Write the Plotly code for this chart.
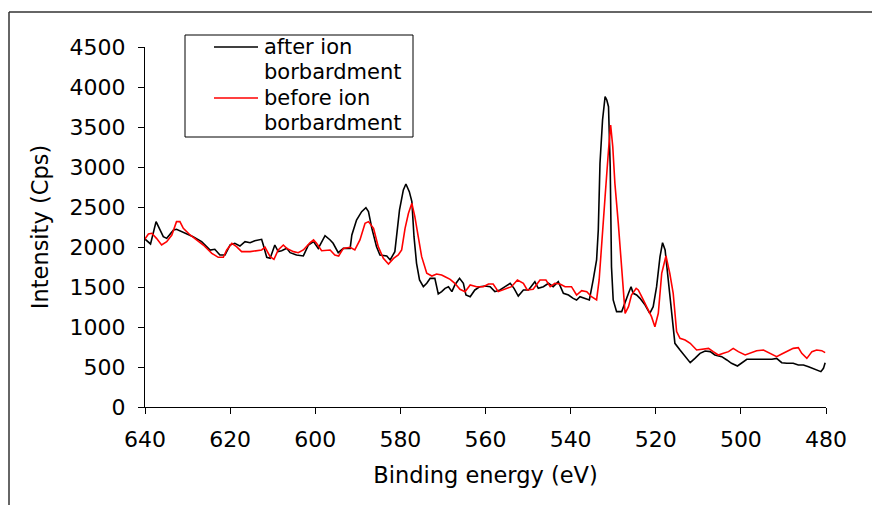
import plotly.graph_objects as go

# after ion bombardment (black)
after_E = [640.2, 638.7, 637.4, 635.7, 634.9, 633.3, 632.6, 629.8, 628.7, 626.7, 624.7, 623.6, 622.4, 621.2,
           620.0, 618.9, 617.7, 616.5, 615.3, 614.2, 612.6, 612.2, 611.4, 610.6, 609.5, 608.7, 607.9, 606.7,
           605.9, 604.4, 602.8, 601.6, 600.4, 599.3, 598.5, 597.7, 596.5, 595.8, 594.6, 593.4, 591.8, 591.4,
           590.3, 589.1, 588.1, 587.5, 586.7, 585.6, 584.8, 583.2, 582.4, 581.3, 580.2, 579.3, 578.7, 577.9,
           577.3, 576.8, 576.2, 575.5, 574.6, 573.8, 573.0, 571.9, 571.1, 570.3,
           569.5, 568.7, 567.9, 567.2, 566.1, 565.2, 564.6, 563.6, 562.5, 561.3, 560.1, 558.9, 557.8, 556.6,
           555.4, 554.2, 553.3, 552.3, 551.1, 549.9, 548.4, 547.6, 546.4, 545.2, 544.1, 542.9, 541.7, 540.5,
           539.4, 538.6, 537.8, 536.6, 535.6, 534.7, 533.9, 533.5, 533.1, 532.5, 532.2, 531.9, 531.5, 531.1,
           530.7, 530.4, 530.0, 529.2, 528.0, 527.2, 526.4, 525.8, 525.3, 524.5, 523.7, 522.5, 521.4, 520.6,
           519.8, 519.0, 518.4, 517.8, 517.1, 516.3, 515.5, 514.3, 513.1, 511.9, 510.8, 509.6, 508.4, 507.2,
           506.1, 504.5, 503.3, 502.2, 500.8, 499.8, 498.6, 497.4, 496.3, 495.1, 493.9, 492.7, 491.6, 490.4,
           489.2, 487.7, 486.5, 485.3, 484.1, 483.0, 482.2, 481.2, 480.6, 480.2]
after_I = [2108, 2038, 2317, 2129, 2108, 2212, 2221, 2150, 2129, 2067, 1962, 1971, 1900, 1900,
           2025, 2046, 2012, 2067, 2054, 2079, 2096, 2025, 1871, 1858, 2025, 1942, 1954, 1983,
           1929, 1900, 1888, 2025, 2067, 1983, 2067, 2142, 2088, 2046, 1929, 1983, 1983, 2150,
           2338, 2442, 2492, 2442, 2233, 2004, 1900, 1888, 1838, 1942, 2463, 2713, 2788, 2692,
           2567, 2129, 1796, 1588, 1504, 1546, 1608, 1608, 1413, 1442,
           1483, 1504, 1442, 1525, 1608, 1546, 1400, 1379, 1463, 1504, 1513, 1504, 1442, 1463,
           1504, 1546, 1483, 1387, 1463, 1463, 1567, 1483, 1504, 1546, 1504, 1567, 1421, 1400,
           1358, 1338, 1379, 1358, 1338, 1588, 1838, 2212, 3046, 3588, 3754, 3879, 3838, 3754,
           3004, 1754, 1338, 1192, 1192, 1317, 1421, 1504, 1421, 1400, 1358, 1275, 1171, 1254,
           1504, 1879, 2054, 1963, 1588, 1171, 796, 712, 629, 554, 608, 671, 700, 692,
           650, 629, 588, 546, 513, 554, 596, 596, 596, 588, 596, 596, 608, 554,
           546, 546, 525, 525, 504, 483, 463, 442, 483, 554]

# before ion bombardment (red)
before_E = [640.2, 639.2, 638.4, 637.3, 636.1, 634.9, 633.7, 632.6, 631.8, 631.0, 629.4, 627.9, 626.3, 624.3,
            622.8, 621.6, 620.8, 619.6, 618.5, 617.3, 615.3, 612.6, 611.8, 610.6, 609.7, 608.7, 607.5, 606.7,
            605.1, 604.0, 602.8, 601.2, 600.4, 599.7, 598.5, 596.5, 595.4, 594.5, 593.4, 591.8, 590.7, 589.5,
            588.3, 587.5, 586.3, 585.2, 584.0, 582.8, 581.6, 580.5, 579.7, 578.9, 578.1, 577.3, 576.6, 575.8,
            575.0, 573.8, 572.6, 571.5, 570.3,
            569.5, 568.3, 567.2, 566.0, 564.8, 563.6, 562.1, 560.5, 559.3, 558.2, 557.0, 555.4, 553.9, 552.5,
            551.1, 550.2, 548.8, 547.2, 545.8, 544.8, 543.7, 542.5, 541.3, 539.8, 538.6, 537.4, 536.2, 535.1,
            533.9, 533.3, 532.7, 531.9, 531.1, 530.6, 530.1, 529.6, 528.8, 528.0, 527.2, 526.4, 525.7, 524.6,
            524.1, 523.3, 522.1, 521.0, 520.2, 519.4, 518.6, 517.6, 516.7, 515.9, 515.1, 514.3, 513.1, 511.9,
            510.4, 508.8, 507.6, 506.5, 505.3, 504.1, 502.9, 501.8, 500.6, 499.0, 497.8, 496.3, 494.7, 493.1,
            491.6, 490.4, 489.2, 487.7, 486.5, 485.7, 484.5, 483.3, 482.2, 481.0, 480.2]
before_I = [2088, 2163, 2171, 2108, 2025, 2067, 2150, 2317, 2317, 2233, 2150, 2088, 2025, 1921,
            1871, 1871, 1963, 2046, 2004, 1942, 1942, 1963, 1996, 1879, 1846, 1963, 2025, 1983,
            1942, 1929, 1963, 2054, 2088, 2046, 1954, 1963, 1900, 1888, 1983, 1996, 1963, 2088,
            2296, 2317, 2233, 2004, 1858, 1788, 1858, 1900, 1963, 2233, 2421, 2546, 2379, 2129,
            1879, 1671, 1637, 1663, 1650,
            1629, 1596, 1546, 1471, 1442, 1525, 1504, 1504, 1538, 1538, 1442, 1471, 1504, 1588,
            1546, 1463, 1471, 1588, 1588, 1504, 1546, 1538, 1504, 1504, 1400, 1454, 1442, 1379,
            1338, 1588, 2088, 2629, 3213, 3525, 3254, 2796, 2296, 1754, 1171, 1254, 1400, 1483,
            1463, 1379, 1254, 1129, 1004, 1171, 1671, 1888, 1671, 1421, 942, 858, 838, 796,
            713, 721, 733, 692, 650, 671, 692, 733, 692, 650, 671, 704, 713, 671,
            629, 663, 692, 733, 742, 671, 608, 692, 713, 704, 679]

x_ticks = [640, 620, 600, 580, 560, 540, 520, 500, 480]
y_ticks = [0, 500, 1000, 1500, 2000, 2500, 3000, 3500, 4000, 4500]
series_names = ["after ion", "borbardment", "before ion", "borbardment"]
series_colors = ["#000000", "#ff0000"]

FONT = "DejaVu Sans, Verdana, sans-serif"

fig = go.Figure()
fig.add_trace(go.Scatter(x=after_E, y=after_I, mode="lines", name="after ion borbardment",
                         line=dict(color=series_colors[0], width=1.6), showlegend=False))
fig.add_trace(go.Scatter(x=before_E, y=before_I, mode="lines", name="before ion borbardment",
                         line=dict(color=series_colors[1], width=1.6), showlegend=False))

# legend box drawn in paper coordinates
def px_x(p):
    return (p - 145) / 681.0

def px_y(p):
    return (407 - p) / 360.0

shapes = [
    dict(type="line", xref="paper", yref="paper", x0=px_x(9), x1=px_x(880), y0=px_y(12), y1=px_y(12),
         line=dict(color="#333333", width=1.5)),
    dict(type="line", xref="paper", yref="paper", x0=px_x(9), x1=px_x(9), y0=px_y(12), y1=px_y(520),
         line=dict(color="#333333", width=1.5)),
    dict(type="rect", xref="paper", yref="paper", x0=px_x(185), x1=px_x(413), y0=px_y(35), y1=px_y(137),
         line=dict(color="#000000", width=1), fillcolor="white", layer="above"),
    dict(type="line", xref="paper", yref="paper", x0=px_x(214), x1=px_x(258), y0=px_y(47), y1=px_y(47),
         line=dict(color=series_colors[0], width=1.6)),
    dict(type="line", xref="paper", yref="paper", x0=px_x(214), x1=px_x(258), y0=px_y(98), y1=px_y(98),
         line=dict(color=series_colors[1], width=1.6)),
]
annotations = []
for txt, yy in zip(series_names, [47, 72, 98, 123]):
    annotations.append(dict(text=txt, xref="paper", yref="paper", x=px_x(262), y=px_y(yy),
                            xanchor="left", yanchor="middle", showarrow=False,
                            font=dict(size=21, family=FONT, color="black")))

fig.update_layout(
    width=872, height=505,
    margin=dict(l=145, r=46, t=47, b=98),
    paper_bgcolor="white", plot_bgcolor="white",
    font=dict(family=FONT, size=22, color="black"),
    showlegend=False,
    xaxis=dict(range=[640, 480], tickvals=x_ticks, ticktext=[str(v) for v in x_ticks],
               showgrid=False, zeroline=False, showline=True, linecolor="#000000", linewidth=1,
               ticks="outside", ticklen=6, tickcolor="#000000", ticklabelstandoff=7,
               tickfont=dict(size=22),
               title=dict(text="Binding energy (eV)", standoff=15, font=dict(size=22.5))),
    yaxis=dict(range=[0, 4500], tickvals=y_ticks, ticktext=[str(v) for v in y_ticks],
               showgrid=False, zeroline=False, showline=True, linecolor="#000000", linewidth=1,
               ticks="outside", ticklen=6, tickcolor="#000000", ticklabelstandoff=8,
               tickfont=dict(size=22),
               title=dict(text="Intensity (Cps)", standoff=14, font=dict(size=22.5))),
    shapes=shapes,
    annotations=annotations,
)

fig.write_html("out.html")
